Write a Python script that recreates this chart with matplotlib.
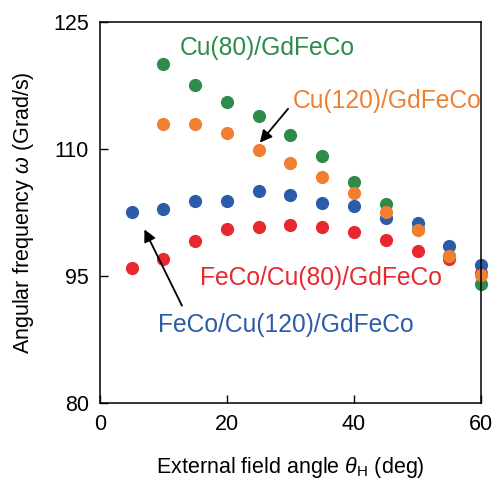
import matplotlib
matplotlib.use('Agg')
import matplotlib.pyplot as plt

plt.rcParams['font.family'] = ['Liberation Sans', 'DejaVu Sans']
plt.rcParams['mathtext.fontset'] = 'custom'
plt.rcParams['mathtext.rm'] = 'Liberation Sans'
plt.rcParams['mathtext.it'] = 'Liberation Sans:italic'

# data (angle in deg, omega in Grad/s)
angle_red = [5, 10, 15, 20, 25, 30, 35, 40, 45, 50, 55, 60]
omega_red = [96.0, 97.0, 99.1, 100.6, 100.8, 101.0, 100.8, 100.2, 99.2, 98.0, 97.0, 95.3]

angle_green = [10, 15, 20, 25, 30, 35, 40, 45, 50, 55, 60]
omega_green = [120.0, 117.5, 115.5, 113.9, 111.7, 109.2, 106.1, 103.5, 100.5, 97.4, 94.0]

angle_blue = [5, 10, 15, 20, 25, 30, 35, 40, 45, 50, 55, 60]
omega_blue = [102.5, 102.9, 103.9, 103.9, 105.0, 104.6, 103.6, 103.3, 101.9, 101.3, 98.6, 96.3]

angle_orange = [10, 15, 20, 25, 30, 35, 40, 45, 50, 55, 60]
omega_orange = [113.0, 113.0, 111.9, 109.9, 108.4, 106.7, 104.8, 102.6, 100.4, 97.4, 95.1]

c_red = '#e8282e'
c_green = '#2e8b4a'
c_blue = '#2a5caa'
c_orange = '#f07f32'

fig = plt.figure(figsize=(4.94, 4.8), dpi=100)
ax = fig.add_axes([0.2024, 0.1604, 0.7713, 0.7938])

ms = 9.5
ax.plot(angle_red, omega_red, 'o', color=c_red, ms=ms, mew=0, clip_on=False)
ax.plot(angle_green, omega_green, 'o', color=c_green, ms=ms, mew=0, clip_on=False)
ax.plot(angle_blue, omega_blue, 'o', color=c_blue, ms=ms, mew=0, clip_on=False)
ax.plot(angle_orange, omega_orange, 'o', color=c_orange, ms=ms, mew=0, clip_on=False)

ax.set_xlim(0, 60)
ax.set_ylim(80, 125)
ax.set_xticks([0, 20, 40, 60])
ax.set_yticks([80, 95, 110, 125])
ax.tick_params(direction='in', length=6, width=1, labelsize=15.5, pad=8)
for s in ax.spines.values():
    s.set_linewidth(1.1)

ax.set_xlabel(r'External field angle $\theta_{\rm H}$ (deg)', fontsize=15.5, labelpad=14)
ax.set_ylabel(r'Angular frequency $\omega$ (Grad/s)', fontsize=15.5, labelpad=12)

# labels and arrows
fs = 17.7
ax.text(12.6, 121.9, 'Cu(80)/GdFeCo', color=c_green, fontsize=fs, va='center', ha='left')
ax.text(30.4, 115.7, 'Cu(120)/GdFeCo', color=c_orange, fontsize=fs, va='center', ha='left')
ax.text(15.7, 94.8, 'FeCo/Cu(80)/GdFeCo', color=c_red, fontsize=fs, va='center', ha='left')
ax.text(9.1, 89.2, 'FeCo/Cu(120)/GdFeCo', color=c_blue, fontsize=fs, va='center', ha='left')

ax.annotate('', xy=(24.9, 110.5), xytext=(29.9, 115.0),
            arrowprops=dict(arrowstyle='-|>', color='black', lw=1.3, mutation_scale=18))
ax.annotate('', xy=(6.8, 100.8), xytext=(13.1, 91.2),
            arrowprops=dict(arrowstyle='-|>', color='black', lw=1.3, mutation_scale=18))

fig.savefig('out.png', dpi=100)
